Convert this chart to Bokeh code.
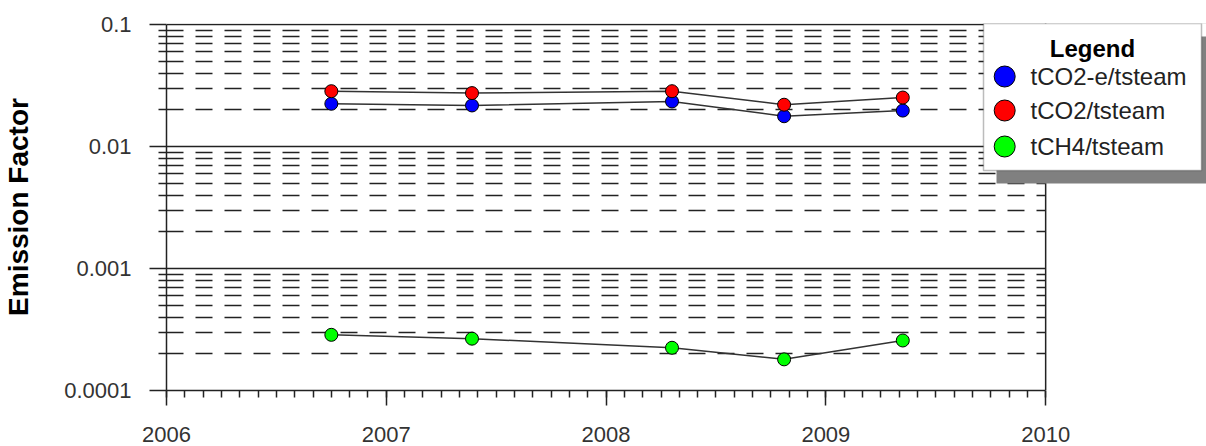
from math import log10
from bokeh.plotting import figure
from bokeh.models import (Range1d, FixedTicker, SingleIntervalTicker, CustomJSTickFormatter,
                          BoxAnnotation, Label, Span, ColumnDataSource)
from bokeh.embed import file_html
from bokeh.resources import INLINE

# ---- data ----
years = [2006.75, 2007.39, 2008.30, 2008.81, 2009.35]
tco2e_per_tsteam = [0.0224, 0.0217, 0.0234, 0.0177, 0.0197]
tco2_per_tsteam = [0.0284, 0.0274, 0.0284, 0.0220, 0.0252]
tch4_per_tsteam = [0.000286, 0.000266, 0.000224, 0.000180, 0.000257]
series_names = ["tCO2-e/tsteam", "tCO2/tsteam", "tCH4/tsteam"]
series_colors = ["#0000ff", "#ff0000", "#00ff00"]
x_start, x_end = 2006, 2010
y_ticks = [0.0001, 0.001, 0.01, 0.1]
y_tick_labels = ["0.0001", "0.001", "0.01", "0.1"]
y_title = "Emission Factor"
legend_title = "Legend"

# ---- layout (pixels) ----
W, H = 1206, 446
FRAME_L, FRAME_R, FRAME_T, FRAME_B = 165, 1045, 24, 390
LEG_L, LEG_R, LEG_T, LEG_B = 982, 1200, 23, 170
SHADOW = 13
LEG_TITLE_CY = 48
LEG_ROWS_CY = [76, 110, 146]
LEG_SWATCH_CX = 1004
LEG_TEXT_X = 1029

FONT = "Liberation Sans"
INK = "#222222"

ly0, ly1 = log10(y_ticks[0]), log10(y_ticks[-1])


def px_to_x(px):
    return x_start + (px - FRAME_L) * (x_end - x_start) / (FRAME_R - FRAME_L)


def py_to_y(py):
    return 10 ** (ly1 - (py - FRAME_T) * (ly1 - ly0) / (FRAME_B - FRAME_T))


p = figure(width=W, height=H, output_backend="svg", toolbar_location=None,
           x_range=Range1d(x_start, px_to_x(W)),
           y_range=Range1d(y_ticks[0], py_to_y(FRAME_T - 1)),
           y_axis_type="log",
           min_border_left=FRAME_L, min_border_right=0,
           min_border_top=FRAME_T - 1, min_border_bottom=H - FRAME_B)
p.background_fill_color = "white"
p.border_fill_color = "white"
p.outline_line_color = None

# grid
p.xgrid.visible = False
p.ygrid.grid_line_color = INK
p.ygrid.grid_line_width = 1.5
p.ygrid.minor_grid_line_color = INK
p.ygrid.minor_grid_line_width = 1.5
p.ygrid.minor_grid_line_dash = "17 12"

# axes
minor_y = [m * t for t in y_ticks[:-1] for m in range(2, 10)]
p.yaxis.ticker = FixedTicker(ticks=y_ticks, minor_ticks=minor_y)
p.yaxis.major_label_overrides = dict(zip(y_ticks, y_tick_labels))
p.yaxis.formatter = CustomJSTickFormatter(code="return tick.toFixed(Math.round(-Math.log10(tick)));")
p.yaxis.bounds = (y_ticks[0], y_ticks[-1])
p.xaxis.ticker = SingleIntervalTicker(interval=1, num_minor_ticks=12)
p.xaxis.bounds = (x_start, x_end)

for ax in (p.xaxis[0], p.yaxis[0]):
    ax.axis_line_color = INK
    ax.axis_line_width = 1.5
    ax.major_tick_line_color = INK
    ax.major_tick_line_width = 1.5
    ax.minor_tick_line_color = INK
    ax.minor_tick_line_width = 1.5
    ax.major_tick_in = 0
    ax.minor_tick_in = 0
    ax.major_label_text_font = FONT
    ax.major_label_text_font_size = "22px"
    ax.major_label_text_color = "#333333"

p.xaxis.major_tick_out = 15
p.xaxis.minor_tick_out = 7
p.xaxis.major_label_standoff = 21
p.yaxis.major_tick_out = 17
p.yaxis.minor_tick_out = 8
p.yaxis.major_label_standoff = 18
p.yaxis.axis_label = y_title
p.yaxis.axis_label_text_font = FONT
p.yaxis.axis_label_text_font_style = "bold"
p.yaxis.axis_label_text_font_size = "28px"
p.yaxis.axis_label_text_color = "black"
p.yaxis.axis_label_standoff = 27

# series
all_series = [tco2e_per_tsteam, tco2_per_tsteam, tch4_per_tsteam]
sources = [ColumnDataSource(dict(x=years, y=vals)) for vals in all_series]
for src in sources:
    p.line("x", "y", source=src, line_color="#333333", line_width=1.5)
for src, color in zip(sources, series_colors):
    p.scatter("x", "y", source=src, size=13, fill_color=color,
              line_color="black", line_width=1)

# blank area right of the plot frame, and the frame's right edge
p.add_layout(BoxAnnotation(left=x_end, right=px_to_x(W), bottom=y_ticks[0],
                           top=py_to_y(FRAME_T - 1), fill_color="white",
                           fill_alpha=1.0, line_alpha=0))
p.add_layout(Span(location=x_end, dimension="height", line_color=INK, line_width=1.5))


# legend (box with drop shadow)
def sx(px):
    return px - FRAME_L


def sy(py):
    return FRAME_B - py


p.add_layout(BoxAnnotation(left=sx(LEG_L + SHADOW), right=sx(LEG_R + SHADOW),
                           top=sy(LEG_T + SHADOW), bottom=sy(LEG_B + SHADOW),
                           left_units="screen", right_units="screen",
                           top_units="screen", bottom_units="screen",
                           fill_color="#808080", fill_alpha=1.0, line_alpha=0))
p.add_layout(BoxAnnotation(left=sx(LEG_L), right=sx(LEG_R), top=sy(LEG_T), bottom=sy(LEG_B),
                           left_units="screen", right_units="screen",
                           top_units="screen", bottom_units="screen",
                           fill_color="white", fill_alpha=1.0, line_color=INK, line_width=1.5))
p.add_layout(Label(x=sx((LEG_L + LEG_R) / 2), y=sy(LEG_TITLE_CY), x_units="screen", y_units="screen",
                   text=legend_title, text_align="center", text_baseline="middle",
                   text_font=FONT, text_font_style="bold", text_font_size="24px",
                   text_color="black"))
for name, cy in zip(series_names, LEG_ROWS_CY):
    p.add_layout(Label(x=sx(LEG_TEXT_X), y=sy(cy), x_units="screen", y_units="screen",
                       text=name, text_align="left", text_baseline="middle",
                       text_font=FONT, text_font_size="24px", text_color=INK))
swatch_src = ColumnDataSource(dict(x=[px_to_x(LEG_SWATCH_CX)] * len(series_names),
                                   y=[py_to_y(cy) for cy in LEG_ROWS_CY],
                                   color=series_colors))
sw = p.scatter("x", "y", source=swatch_src, size=21, fill_color="color",
               line_color="black", line_width=1)
sw.level = "overlay"

open("out.html", "w").write(file_html(p, INLINE))
